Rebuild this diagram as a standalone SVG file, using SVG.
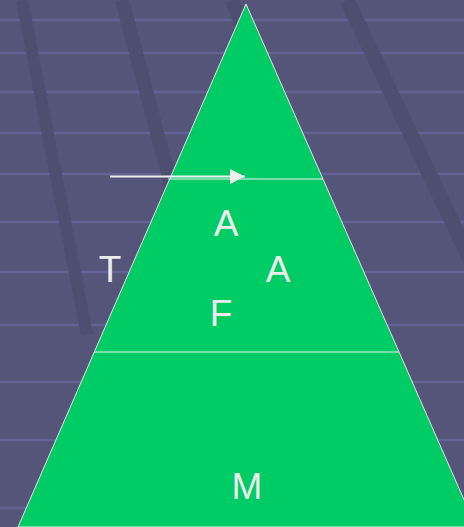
<svg xmlns="http://www.w3.org/2000/svg" width="464" height="527" viewBox="0 0 464 527">
<style>
.hl{stroke:#65659a;stroke-width:2.5;fill:none;opacity:0.85}
.st{stroke:#4e4e71;fill:none;stroke-linecap:butt}
.lbl{font-family:"Liberation Sans",Arial,sans-serif;font-size:37px;fill:#ececec;text-anchor:middle}
.div{stroke:#f0f0f0;stroke-width:1.2}
</style>
<defs>
<marker id="ah" viewBox="0 0 10 10" refX="10" refY="5" markerWidth="15" markerHeight="15" markerUnits="userSpaceOnUse" orient="auto">
<path d="M0,0 L10,5 L0,10 Z" fill="#eeeeee"/>
</marker>
</defs>
<g id="background">
<rect width="464" height="527" fill="#55557a"/>
<g class="hl">
<line x1="0" y1="20" x2="464" y2="20"/>
<line x1="0" y1="53" x2="464" y2="53"/>
<line x1="0" y1="92" x2="464" y2="92"/>
<line x1="0" y1="133" x2="464" y2="133"/>
<line x1="0" y1="174" x2="464" y2="174"/>
<line x1="0" y1="222" x2="464" y2="222"/>
<line x1="0" y1="272" x2="464" y2="272"/>
<line x1="0" y1="325" x2="464" y2="325"/>
<line x1="0" y1="382" x2="464" y2="382"/>
<line x1="0" y1="440" x2="464" y2="440"/>
<line x1="0" y1="508" x2="464" y2="508"/>
</g>
<line class="st" x1="22" y1="0" x2="87" y2="335" stroke-width="12"/>
<line class="st" x1="122" y1="0" x2="175" y2="200" stroke-width="14"/>
<line class="st" x1="347" y1="0" x2="475" y2="270" stroke-width="15"/>
<line class="st" x1="232" y1="0" x2="248" y2="40" stroke-width="14"/>
</g>
<g id="pyramid">
<polygon points="246,4 18,527 476,527" fill="#00cc66" stroke="#e6e6e6" stroke-width="1"/>
<line class="div" x1="168" y1="179" x2="323" y2="179"/>
<line class="div" x1="94" y1="352" x2="399" y2="352"/>
</g>
<g id="connectors">
<line x1="110" y1="176.5" x2="245" y2="176.5" stroke="#eeeeee" stroke-width="2" marker-end="url(#ah)"/>
</g>
<g id="labels">
<g id="label-T"><text class="lbl" x="110" y="282">T</text></g>
<g id="label-A1"><text class="lbl" x="226" y="236">A</text></g>
<g id="label-A2"><text class="lbl" x="278" y="282">A</text></g>
<g id="label-F"><text class="lbl" x="221" y="326">F</text></g>
<g id="label-M"><text class="lbl" x="247" y="499">M</text></g>
</g>
</svg>
